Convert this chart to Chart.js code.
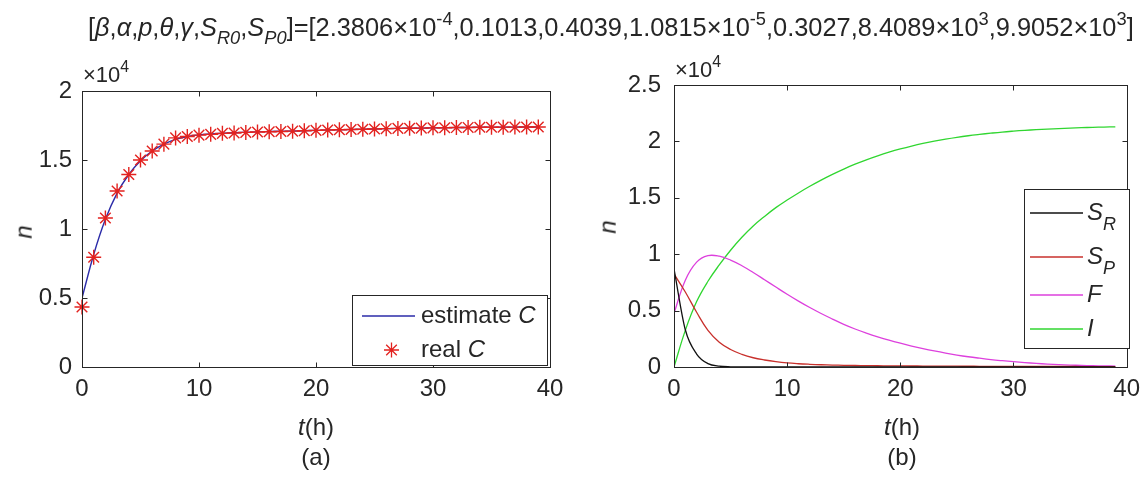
<!DOCTYPE html>
<html>
<head>
<meta charset="utf-8">
<script src="https://cdn.jsdelivr.net/npm/chart.js@4.4.0/dist/chart.umd.min.js"></script>
<style>
  body { margin: 0; background: #fff; width: 1148px; height: 479px; position: relative; overflow: hidden;
         font-family: "Liberation Sans", Arial, sans-serif; color: #262626; }
  canvas { position: absolute; left: 0; top: 0; }
  .lbl { position: absolute; white-space: nowrap; line-height: 1; }
  .i { font-style: italic; }
  .sb { font-size: 0.72em; vertical-align: -0.42em; font-style: italic; }
  .sp { font-size: 0.72em; vertical-align: 0.6em; }
</style>
</head>
<body>
<canvas id="chartA" width="1148" height="479"></canvas>
<canvas id="chartB" width="1148" height="479"></canvas>

<div class="lbl" id="title" style="left:88px; top:10px; font-size:25.4px;">[<span class="i">β</span>,<span class="i">α</span>,<span class="i">p</span>,<span class="i">θ</span>,<span class="i">γ</span>,<span class="i">S</span><span class="sb">R0</span>,<span class="i">S</span><span class="sb">P0</span>]=[2.3806×10<span class="sp">-4</span>,0.1013,0.4039,1.0815×10<span class="sp">-5</span>,0.3027,8.4089×10<span class="sp">3</span>,9.9052×10<span class="sp">3</span>]</div>

<div class="lbl" style="left:83px; top:59px; font-size:22px;">×10<span class="sp">4</span></div>
<div class="lbl" style="left:675px; top:54px; font-size:22px;">×10<span class="sp">4</span></div>

<div class="lbl i" style="left:17px; top:220px; font-size:24px; transform: rotate(-90deg);">n</div>
<div class="lbl i" style="left:601px; top:215px; font-size:24px; transform: rotate(-90deg);">n</div>

<div class="lbl" style="left:316px; top:415px; font-size:24px; transform: translateX(-50%);"><span class="i">t</span>(h)</div>
<div class="lbl" style="left:902px; top:415px; font-size:24px; transform: translateX(-50%);"><span class="i">t</span>(h)</div>
<div class="lbl" style="left:316px; top:445px; font-size:24px; transform: translateX(-50%);">(a)</div>
<div class="lbl" style="left:902px; top:445px; font-size:24px; transform: translateX(-50%);">(b)</div>

<script>
// time points (h)
const tHours = [0, 1, 2, 3, 4, 5, 6, 7, 8, 9, 10, 11, 12, 13, 14, 15, 16, 17, 18, 19,
                20, 21, 22, 23, 24, 25, 26, 27, 28, 29, 30, 31, 32, 33, 34, 35, 36, 37, 38, 39];

// (a) measured and estimated C
const realC = [4350, 7950, 10800, 12750, 13950, 15000, 15650, 16150, 16600, 16700,
               16800, 16860, 16930, 16960, 17000, 17030, 17050, 17070, 17090, 17120,
               17150, 17170, 17190, 17210, 17230, 17250, 17270, 17290, 17300, 17310,
               17330, 17340, 17350, 17360, 17370, 17375, 17380, 17385, 17390, 17395];
const estimateC = [5000, 8150, 10700, 12600, 13950, 14950, 15650, 16150, 16500, 16700,
                   16820, 16890, 16940, 16980, 17010, 17040, 17060, 17080, 17100, 17120,
                   17150, 17170, 17190, 17210, 17230, 17250, 17270, 17290, 17300, 17310,
                   17330, 17340, 17350, 17360, 17370, 17375, 17380, 17385, 17390, 17395];

// (b) model states
const SR = [8700, 3300, 1150, 300, 70, 15, 3, 0, 0, 0, 0, 0, 0, 0, 0, 0, 0, 0, 0, 0,
            0, 0, 0, 0, 0, 0, 0, 0, 0, 0, 0, 0, 0, 0, 0, 0, 0, 0, 0, 0];
const SP = [8250, 6650, 4850, 3250, 2200, 1550, 1120, 820, 620, 470,
            360, 290, 240, 200, 170, 148, 132, 120, 110, 100,
            95, 90, 85, 80, 75, 70, 67, 64, 61, 58,
            55, 52, 50, 48, 46, 44, 42, 40, 38, 36];
const F = [4750, 7700, 9300, 9870, 9820, 9480, 8980, 8380, 7740, 7090,
           6450, 5840, 5270, 4740, 4250, 3780, 3370, 3010, 2680, 2380,
           2110, 1860, 1630, 1420, 1230, 1060, 910, 780, 660, 560,
           470, 390, 320, 260, 210, 170, 140, 115, 95, 80];
const I = [0, 3250, 5800, 7600, 9050, 10350, 11500, 12500, 13350, 14130,
           14800, 15430, 16020, 16570, 17080, 17550, 17980, 18370, 18720, 19040,
           19330, 19590, 19820, 20020, 20200, 20360, 20500, 20620, 20730, 20830,
           20910, 20980, 21040, 21090, 21140, 21180, 21215, 21245, 21270, 21290];

const xTicks = [0, 10, 20, 30, 40];
const FONT = '"Liberation Sans", Arial, sans-serif';
const AX = '#262626';

const pts = (ys) => tHours.map((t, i) => ({ x: t, y: ys[i] }));

function drawStar(ctx, cx, cy, r) {
    ctx.beginPath();
    for (let k = 0; k < 4; k++) {
        const a = k * Math.PI / 4;
        ctx.moveTo(cx - r * Math.cos(a), cy - r * Math.sin(a));
        ctx.lineTo(cx + r * Math.cos(a), cy + r * Math.sin(a));
    }
    ctx.stroke();
}

function drawParts(ctx, x, y, parts, size) {
    ctx.textBaseline = 'middle';
    ctx.textAlign = 'left';
    ctx.fillStyle = AX;
    parts.forEach(p => {
        const s = p.sub ? size * 0.75 : size;
        ctx.font = (p.it ? 'italic ' : '') + s + 'px ' + FONT;
        ctx.fillText(p.t, x, y + (p.sub ? size * 0.5 : 0));
        x += ctx.measureText(p.t).width;
    });
}

const matlabBox = {
    id: 'matlabBox',
    afterDatasetsDraw(chart, args, opts) {
        const { ctx, chartArea: a, scales: { x, y } } = chart;
        ctx.save();
        ctx.strokeStyle = AX;
        ctx.lineWidth = 1;
        const l = Math.round(a.left) + 0.5, r = Math.round(a.right) + 0.5;
        const t = Math.round(a.top) + 0.5, b = Math.round(a.bottom) + 0.5;
        ctx.strokeRect(l, t, r - l, b - t);
        const L = 5;
        ctx.beginPath();
        x.ticks.forEach(tk => {
            const px = Math.round(x.getPixelForValue(tk.value)) + 0.5;
            ctx.moveTo(px, b); ctx.lineTo(px, b - L);
            ctx.moveTo(px, t); ctx.lineTo(px, t + L);
        });
        y.ticks.forEach(tk => {
            const py = Math.round(y.getPixelForValue(tk.value)) + 0.5;
            ctx.moveTo(l, py); ctx.lineTo(l + L, py);
            ctx.moveTo(r, py); ctx.lineTo(r - L, py);
        });
        ctx.stroke();

        // boxed legend
        const lg = opts.legend;
        ctx.fillStyle = '#fff';
        ctx.fillRect(lg.x1, lg.y1, lg.x2 - lg.x1, lg.y2 - lg.y1);
        ctx.strokeStyle = AX;
        ctx.strokeRect(lg.x1 + 0.5, lg.y1 + 0.5, lg.x2 - lg.x1, lg.y2 - lg.y1);
        lg.items.forEach(it => {
            ctx.strokeStyle = it.color;
            ctx.lineWidth = 1.3;
            if (it.kind === 'line') {
                ctx.beginPath();
                ctx.moveTo(lg.s1, it.y); ctx.lineTo(lg.s2, it.y);
                ctx.stroke();
            } else {
                drawStar(ctx, (lg.s1 + lg.s2) / 2 + 3, it.y, 7.5);
            }
            drawParts(ctx, lg.tx, it.y, it.parts, lg.size);
        });
        ctx.restore();
    }
};

function axes(yMax, yWidth, yPad) {
    return {
        x: {
            type: 'linear', min: 0, max: 40,
            afterBuildTicks: s => { s.ticks = xTicks.map(v => ({ value: v })); },
            afterFit: s => { s.height = 40; },
            grid: { display: false, drawTicks: false },
            border: { display: false },
            ticks: { color: AX, font: { family: FONT, size: 24 }, padding: 8, maxRotation: 0 }
        },
        y: {
            min: 0, max: yMax,
            afterFit: s => { s.width = yWidth; },
            grid: { display: false, drawTicks: false },
            border: { display: false },
            ticks: { stepSize: 5000, color: AX, font: { family: FONT, size: 24 }, padding: yPad,
                      callback: v => String(v / 10000) }
        }
    };
}

new Chart(document.getElementById('chartA'), {
    type: 'line',
    data: {
        datasets: [
            { label: 'real C', data: pts(realC), showLine: false, order: 0, clip: false,
              pointStyle: 'star', pointRadius: 7.5, pointBorderWidth: 1.4,
              pointBorderColor: '#e3221f', pointBackgroundColor: '#e3221f' },
            { label: 'estimate C', data: pts(estimateC), order: 1, borderColor: '#2b2ba8',
              borderWidth: 1.4, pointRadius: 0, cubicInterpolationMode: 'monotone' }
        ]
    },
    options: {
        responsive: false, animation: false,
        layout: { padding: { left: 0, top: 91, right: 598, bottom: 72 } },
        scales: axes(20000, 82, 10),
        plugins: {
            legend: { display: false }, tooltip: { enabled: false },
            matlabBox: {
                legend: {
                    x1: 352, y1: 295, x2: 547, y2: 365, s1: 362, s2: 415, tx: 421, size: 24,
                    items: [
                        { kind: 'line', color: '#2b2ba8', y: 316, parts: [{ t: 'estimate ' }, { t: 'C', it: true }] },
                        { kind: 'star', color: '#e3221f', y: 350, parts: [{ t: 'real ' }, { t: 'C', it: true }] }
                    ]
                }
            }
        }
    },
    plugins: [matlabBox]
});

const lineSet = (label, ys, color, smooth) => ({
    label, data: pts(ys), borderColor: color, borderWidth: 1.3, pointRadius: 0,
    cubicInterpolationMode: smooth ? 'default' : 'monotone', tension: 0.4
});

new Chart(document.getElementById('chartB'), {
    type: 'line',
    data: {
        datasets: [
            lineSet('S_R', SR, '#111111', false),
            lineSet('S_P', SP, '#c8302c', true),
            lineSet('F', F, '#dd40dd', true),
            lineSet('I', I, '#30d630', true)
        ]
    },
    options: {
        responsive: false, animation: false,
        layout: { padding: { left: 574, top: 85, right: 17, bottom: 72 } },
        scales: axes(25000, 100, 13),
        plugins: {
            legend: { display: false }, tooltip: { enabled: false },
            matlabBox: {
                legend: {
                    x1: 1024, y1: 189, x2: 1129, y2: 348, s1: 1030, s2: 1083, tx: 1087, size: 24,
                    items: [
                        { kind: 'line', color: '#111111', y: 213, parts: [{ t: 'S', it: true }, { t: 'R', it: true, sub: true }] },
                        { kind: 'line', color: '#c8302c', y: 257, parts: [{ t: 'S', it: true }, { t: 'P', it: true, sub: true }] },
                        { kind: 'line', color: '#dd40dd', y: 295, parts: [{ t: 'F', it: true }] },
                        { kind: 'line', color: '#30d630', y: 329, parts: [{ t: 'I', it: true }] }
                    ]
                }
            }
        }
    },
    plugins: [matlabBox]
});
</script>
</body>
</html>
